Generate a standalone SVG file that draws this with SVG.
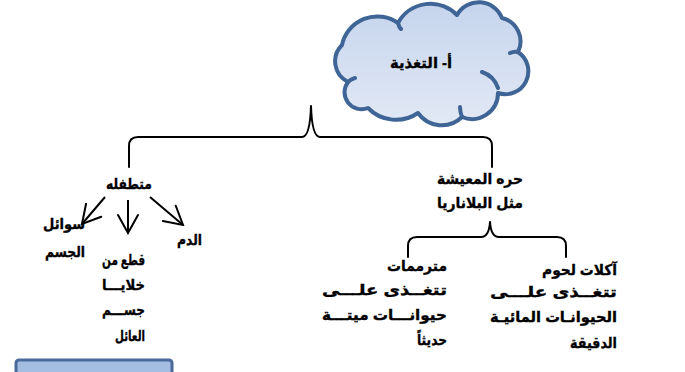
<svg xmlns="http://www.w3.org/2000/svg" width="685" height="372" viewBox="0 0 685 372">
  <style>
    .t { font-family: "Liberation Sans", "DejaVu Sans", sans-serif; font-size: 15px; font-weight: bold; fill: #000; stroke: #000; stroke-width: 0.35; direction: rtl; text-anchor: start; }
    .link { fill: none; stroke: #000; stroke-width: 2; stroke-linecap: round; stroke-linejoin: round; }
    .arrow { fill: none; stroke: #000; stroke-width: 2; marker-end: url(#open); }
    .crease { fill: none; stroke: #3e6595; stroke-width: 4; stroke-linecap: round; }
  </style>
  <defs>
    <linearGradient id="cloudFill" x1="0" y1="0" x2="0" y2="1">
      <stop offset="0" stop-color="#c5d4ed"/>
      <stop offset="1" stop-color="#e2e9f5"/>
    </linearGradient>
    <marker id="open" viewBox="-22 -13 24 26" markerWidth="24" markerHeight="26" refX="0" refY="0" orient="auto" markerUnits="userSpaceOnUse">
      <path d="M-18,-10 L0,0 L-18,10" fill="none" stroke="#000" stroke-width="2" stroke-linecap="round" stroke-linejoin="miter"/>
    </marker>
  </defs>

  <!-- title cloud -->
  <g id="cloud">
    <path d="M348,82 A23 23 0 0 1 342,45 A36 36 0 0 1 398,23 A37 37 0 0 1 457,15 A25 25 0 0 1 502,18 A24 24 0 0 1 518,52 A23 23 0 0 1 498,93 A26 26 0 0 1 462,117 A29 29 0 0 1 418,113 A39 39 0 0 1 368,108 A17 17 0 0 1 348,82 Z"
          fill="url(#cloudFill)" stroke="#3e6595" stroke-width="4" stroke-linejoin="round"/>
    <path class="crease" d="M348,82 Q351,79 355,78 M398,23 Q399,27 401,29 M462,117 Q460,112 460,107 M518,52 Q514,51 510,53 M482,72 Q494,76 498,88"/>
    <text class="t" x="452" y="68" textLength="62" lengthAdjust="spacingAndGlyphs">أ- التغذية</text>
  </g>

  <!-- connectors -->
  <g id="connectors">
    <path class="link" d="M129,167 V146 Q129,137 138,137 H302 Q310,137 311,106 Q312,137 320,137 H483 Q492,137 492,146 V167"/>
    <path class="link" d="M408,257 V246 Q408,237 417,237 H481 Q489,237 490,222 Q491,237 499,237 H557 Q566,237 566,246 V257"/>
    <line class="arrow" x1="105" y1="197" x2="82" y2="224"/>
    <line class="arrow" x1="128" y1="200" x2="128" y2="233"/>
    <line class="arrow" x1="150" y1="197" x2="183" y2="225"/>
  </g>

  <!-- parasitic branch -->
  <g id="parasites">
    <text class="t" x="152" y="189" textLength="46" lengthAdjust="spacingAndGlyphs">متطفله</text>
  </g>
  <g id="body-fluids">
    <text class="t" x="85" y="229" textLength="42" lengthAdjust="spacingAndGlyphs">سوائل</text>
    <text class="t" x="85" y="257" textLength="40" lengthAdjust="spacingAndGlyphs">الجسم</text>
  </g>
  <g id="host-tissue">
    <text class="t" x="145" y="265" textLength="43" lengthAdjust="spacingAndGlyphs">قطع من</text>
    <text class="t" x="145" y="290" textLength="43" lengthAdjust="spacingAndGlyphs">خلايـــا</text>
    <text class="t" x="145" y="315" textLength="43" lengthAdjust="spacingAndGlyphs">جســـم</text>
    <text class="t" x="145" y="341" textLength="30" lengthAdjust="spacingAndGlyphs">العائل</text>
  </g>
  <g id="blood">
    <text class="t" x="202" y="245" textLength="25" lengthAdjust="spacingAndGlyphs">الدم</text>
  </g>

  <!-- free-living branch -->
  <g id="free-living">
    <text class="t" x="523" y="184" textLength="86" lengthAdjust="spacingAndGlyphs">حره المعيشة</text>
    <text class="t" x="523" y="208" textLength="86" lengthAdjust="spacingAndGlyphs">مثل البلاناريا</text>
  </g>
  <g id="scavengers">
    <text class="t" x="447" y="271" textLength="60" lengthAdjust="spacingAndGlyphs">مترممات</text>
    <text class="t" x="447" y="295" textLength="125" lengthAdjust="spacingAndGlyphs">تتغــذى علـــى</text>
    <text class="t" x="447" y="320" textLength="125" lengthAdjust="spacingAndGlyphs">حيوانـــات ميتـــة</text>
    <text class="t" x="447" y="345" textLength="30" lengthAdjust="spacingAndGlyphs">حديثاً</text>
  </g>
  <g id="carnivores">
    <text class="t" x="617" y="275" textLength="75" lengthAdjust="spacingAndGlyphs">آكلات لحوم</text>
    <text class="t" x="617" y="297" textLength="127" lengthAdjust="spacingAndGlyphs">تتغــذى علـــى</text>
    <text class="t" x="617" y="322" textLength="127" lengthAdjust="spacingAndGlyphs">الحيوانـات المائيـة</text>
    <text class="t" x="617" y="348" textLength="47" lengthAdjust="spacingAndGlyphs">الدقيقة</text>
  </g>

  <!-- partially visible box at the bottom edge -->
  <g id="bottom-box">
    <rect x="16" y="360" width="156" height="30" rx="3" fill="#a4bde3" stroke="#4a6a9c" stroke-width="3"/>
  </g>
</svg>
